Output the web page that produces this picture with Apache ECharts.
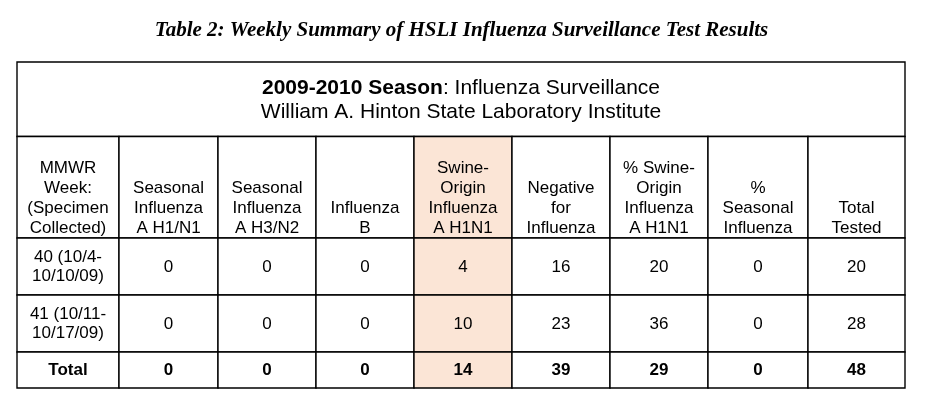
<!DOCTYPE html>
<html>
<head>
<meta charset="utf-8">
<title>Table 2: Weekly Summary of HSLI Influenza Surveillance Test Results</title>
<script src="https://cdn.jsdelivr.net/npm/echarts@6/dist/echarts.min.js"></script>
</head>
<body style="margin:0;background:#fff">
<div id="container" style="width:935px;height:409px"></div>
<script>
// table contents
var caption = 'Table 2: Weekly Summary of HSLI Influenza Surveillance Test Results';
var seasonLine = '{b|2009-2010 Season}: Influenza Surveillance';
var labLine = 'William A. Hinton State Laboratory Institute';
var headers = [
    'MMWR\nWeek:\n(Specimen\nCollected)',
    'Seasonal\nInfluenza\nA H1/N1',
    'Seasonal\nInfluenza\nA H3/N2',
    'Influenza\nB',
    'Swine-\nOrigin\nInfluenza\nA H1N1',
    'Negative\nfor\nInfluenza',
    '% Swine-\nOrigin\nInfluenza\nA H1N1',
    '%\nSeasonal\nInfluenza',
    'Total\nTested'
];
var weekLabels = ['40 (10/4-\n10/10/09)', '41 (10/11-\n10/17/09)'];
var seasonalH1N1 = [0, 0];
var seasonalH3N2 = [0, 0];
var influenzaB = [0, 0];
var swineH1N1 = [4, 10];
var negative = [16, 23];
var pctSwine = [20, 36];
var pctSeasonal = [0, 0];
var totalTested = [20, 28];
var totalRow = ['Total', 0, 0, 0, 14, 39, 29, 0, 48];

// layout (axis units = px)
var colWidths = [102, 99, 98, 98, 98, 98, 98, 100, 97];
var rowHeights = [74.5, 101.5, 57, 57, 36];
var highlightCol = 4;

var colEdges = [0];
colWidths.forEach(function (w, i) { colEdges.push(colEdges[i] + w); });
var rowEdges = [0];
rowHeights.forEach(function (h, i) { rowEdges.push(rowEdges[i] + h); });

// cell items: [col, row, colSpan, text, kind]
var cells = [];
cells.push([0, 0, 9, seasonLine + '\n' + labLine, 'season']);
headers.forEach(function (h, c) { cells.push([c, 1, 1, h, 'head']); });
var bodyCols = [weekLabels, seasonalH1N1, seasonalH3N2, influenzaB, swineH1N1,
    negative, pctSwine, pctSeasonal, totalTested];
for (var r = 0; r < weekLabels.length; r++) {
    bodyCols.forEach(function (col, c) { cells.push([c, 2 + r, 1, String(col[r]), 'body']); });
}
totalRow.forEach(function (v, c) { cells.push([c, 4, 1, String(v), 'total']); });

var font = 'Arial, "Liberation Sans", sans-serif';

function renderCell(params, api) {
    var c = api.value(0), r = api.value(1), span = api.value(2);
    var item = cells[params.dataIndex];
    var p0 = api.coord([colEdges[c], rowEdges[r]]);
    var p1 = api.coord([colEdges[c + span], rowEdges[r + 1]]);
    var w = p1[0] - p0[0], h = p1[1] - p0[1];
    var kind = item[4];
    var textStyle = {
        text: item[3],
        x: p0[0] + w / 2,
        align: 'center',
        fill: '#000'
    };
    if (kind === 'season') {
        textStyle.y = p0[1] + h / 2 + 0.5;
        textStyle.verticalAlign = 'middle';
        textStyle.font = '21px ' + font;
        textStyle.lineHeight = 24;
        textStyle.rich = {b: {font: 'bold 21px ' + font, lineHeight: 24, fill: '#000'}};
    } else if (kind === 'head') {
        textStyle.y = p1[1];
        textStyle.verticalAlign = 'bottom';
        textStyle.font = '17px ' + font;
        textStyle.lineHeight = 20;
    } else {
        textStyle.y = p0[1] + h / 2 + 0.5;
        textStyle.verticalAlign = 'middle';
        textStyle.font = (kind === 'total' ? 'bold ' : '') + '17px ' + font;
        textStyle.lineHeight = 19;
    }
    return {
        type: 'group',
        children: [{
            type: 'rect',
            shape: {x: p0[0], y: p0[1], width: w, height: h},
            style: {
                fill: (c === highlightCol && r > 0) ? '#fbe5d6' : '#fff',
                stroke: '#000',
                lineWidth: 1.4
            }
        }, {
            type: 'text',
            style: textStyle
        }]
    };
}

var myChart = echarts.init(document.getElementById('container'));
var option = {
    backgroundColor: '#fff',
    animation: false,
    graphic: [{
        type: 'text',
        x: 461.5,
        y: 31,
        style: {
            text: caption,
            align: 'center',
            verticalAlign: 'middle',
            font: 'italic bold 21px "Liberation Serif", "Times New Roman", serif',
            fill: '#000'
        }
    }],
    grid: {left: 17, top: 62, width: colEdges[9], height: rowEdges[5]},
    xAxis: {type: 'value', min: 0, max: colEdges[9], show: false},
    yAxis: {type: 'value', min: 0, max: rowEdges[5], inverse: true, show: false},
    series: [{
        type: 'custom',
        clip: false,
        renderItem: renderCell,
        encode: {x: 0, y: 1},
        data: cells.map(function (d) { return [d[0], d[1], d[2]]; })
    }]
};
myChart.setOption(option);
</script>
</body>
</html>
